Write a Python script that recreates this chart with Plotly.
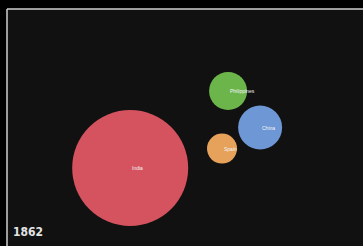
import plotly.graph_objects as go

countries = ["India", "Philippines", "China", "Spain"]
x_vals = [34.6, 62.1, 71.1, 60.4]
y_vals = [32.9, 65.4, 50.0, 41.1]
population = [230.0, 24.7, 33.1, 15.4]
colors = ["#d5525f", "#6cb54a", "#6e97d6", "#e6a25a"]
year = "1862"

max_diam = 116
sizeref = 2.0 * max(population) / (max_diam ** 2)

fig = go.Figure()
fig.add_trace(go.Scatter(
    x=x_vals, y=y_vals, mode="markers",
    marker=dict(size=population, sizemode="area", sizeref=sizeref,
                color=colors, opacity=1, line=dict(width=0)),
    hoverinfo="skip", showlegend=False,
))

for c, xv, yv in zip(countries, x_vals, y_vals):
    fig.add_annotation(x=xv, y=yv, text=c, showarrow=False, xanchor="left",
                       yanchor="middle", font=dict(size=5, color="#f4f4f4",
                                                   family="Liberation Sans, Arial, sans-serif"))

fig.add_annotation(x=0, y=0, xref="paper", yref="paper", text="<b>" + year + "</b>",
                   showarrow=False, xanchor="left", yanchor="bottom",
                   xshift=4, yshift=5,
                   font=dict(size=12, color="#e4e4e4",
                             family="DejaVu Sans Condensed, Arial Narrow, sans-serif"))

fig.add_shape(type="line", xref="paper", yref="paper", x0=0, x1=0, y0=0, y1=1,
              line=dict(color="#cfcfcf", width=1.5))
fig.add_shape(type="line", xref="paper", yref="paper", x0=0, x1=1, y0=1, y1=1,
              line=dict(color="#cfcfcf", width=1.5))

fig.update_xaxes(range=[0, 100], visible=False, fixedrange=True)
fig.update_yaxes(range=[0, 100], visible=False, fixedrange=True)
fig.update_layout(
    width=363, height=246, autosize=False,
    margin=dict(l=7, r=0, t=9, b=0, pad=0),
    paper_bgcolor="#000000", plot_bgcolor="#111111",
)
fig.write_html("out.html", config={"displayModeBar": False},
               post_script="document.body.style.margin='0';document.body.style.background='#000';")
